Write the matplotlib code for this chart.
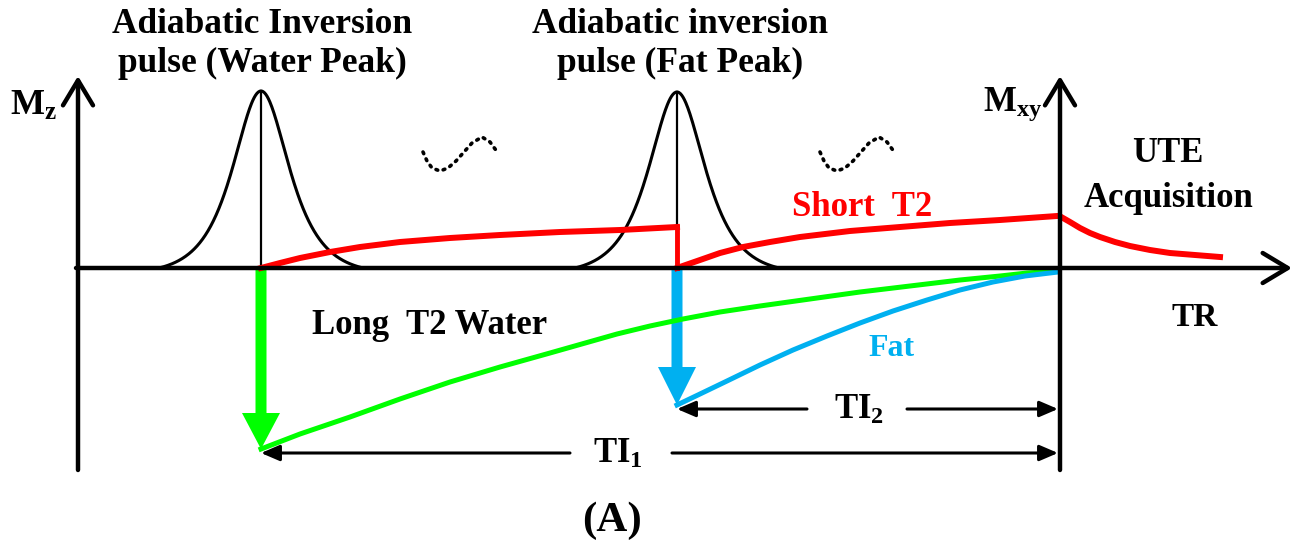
"""Adiabatic inversion recovery UTE sequence diagram."""

import numpy as np
from matplotlib import pyplot as plt

plt.rcParams['font.family'] = ['Liberation Serif', 'DejaVu Serif']
plt.rcParams['font.weight'] = 'bold'
plt.rcParams['mathtext.fontset'] = 'custom'
plt.rcParams['mathtext.rm'] = 'Liberation Serif:bold'
plt.rcParams['mathtext.bf'] = 'Liberation Serif:bold'
plt.rcParams['mathtext.it'] = 'Liberation Serif:bold'

RED = '#ff0000'
GREEN = '#00ff00'
BLUE = '#00b0f0'

# diagram positions (pixels, y downwards)
baseline = 268
t_water = 261       # water inversion pulse
t_fat = 677         # fat inversion pulse
t_acq = 1060        # UTE acquisition (Mxy axis)
pulse_peak = [91, 92]
pulse_halfwidth = 102
pulse_width = 25

# short T2 signal
short1_x = [261, 280, 300, 330, 360, 400, 450, 500, 560, 620, 677]
short1_y = [268, 263, 258, 252, 247, 242, 238, 235, 232, 230, 227]
short2_x = [677, 700, 720, 743, 770, 800, 850, 900, 950, 1000, 1057]
short2_y = [268, 260, 253, 247, 242, 237, 231, 227, 223, 220, 216]
fid_x = [1063, 1070, 1080, 1090, 1100, 1115, 1130, 1150, 1170, 1195, 1220]
fid_y = [218, 222, 228, 233, 237, 242, 246, 250, 253, 255, 257]

# long T2 water recovery
water_x = [261, 300, 350, 400, 450, 500, 550, 617, 650, 683, 720, 760,
           810, 860, 910, 960, 1000, 1027, 1058]
water_y = [449, 434, 417, 399, 382, 367, 353, 334, 326, 319, 312, 306,
           299, 292, 286, 280, 276, 273, 271]

# fat recovery
fat_x = [677, 700, 727, 760, 793, 827, 860, 893, 927, 960, 993, 1025, 1058]
fat_y = [405, 394, 381, 365, 350, 336, 323, 311, 300, 290, 282, 276, 272]

# dotted squiggles
sq_dx = [0, 4, 9, 17, 25, 33, 41, 49, 59, 67, 75]
sq_y = [152, 161, 168, 171, 168, 161, 152, 143, 137, 142, 153]
sq_start = [423, 820]

fig = plt.figure(figsize=(13.05, 5.46), dpi=100)
ax = fig.add_axes([0, 0, 1, 1])
ax.set_xlim(0, 1305)
ax.set_ylim(546, 0)
ax.axis('off')

# axes of the diagram
open_head = dict(arrowstyle='->,head_length=0.5,head_width=0.3', lw=3.2,
                 color='black', shrinkA=0, shrinkB=0, mutation_scale=36)
ax.annotate('', xy=(78, 76), xytext=(78, 470), arrowprops=open_head)
ax.annotate('', xy=(t_acq, 76), xytext=(t_acq, 470), arrowprops=open_head)
ax.annotate('', xy=(1292, baseline), xytext=(76, baseline), arrowprops=open_head)

# inversion pulses
for c, peak in zip([t_water, t_fat], pulse_peak):
    d = np.linspace(-pulse_halfwidth, pulse_halfwidth, 301)
    s = 1 / np.cosh(d / pulse_width)
    s0 = 1 / np.cosh(pulse_halfwidth / pulse_width)
    s = (s - s0) / (1 - s0)
    ax.plot(c + d, baseline - (baseline - peak) * s, color='black', lw=2.2,
            solid_capstyle='round')
    ax.plot([c, c], [baseline, peak], color='black', lw=1.6)

# short T2
ax.plot(short1_x, short1_y, color=RED, lw=4.3, solid_joinstyle='round')
ax.plot([t_fat, t_fat], [short1_y[-1], baseline], color=RED, lw=3.5)
ax.plot(short2_x, short2_y, color=RED, lw=4.3, solid_joinstyle='round')
ax.plot(fid_x, fid_y, color=RED, lw=4.3, solid_joinstyle='round')

# inversion arrows
ax.arrow(t_water, baseline + 2, 0, water_y[0] - baseline - 2, width=11,
         head_width=38, head_length=36, length_includes_head=True,
         color=GREEN, lw=0)
ax.arrow(t_fat, baseline + 2, 0, fat_y[0] - baseline - 2, width=11,
         head_width=38, head_length=38, length_includes_head=True,
         color=BLUE, lw=0)

# recoveries
ax.plot(water_x, water_y, color=GREEN, lw=3.6, solid_joinstyle='round')
ax.plot(fat_x, fat_y, color=BLUE, lw=3.6, solid_joinstyle='round')

# squiggles
for x0 in sq_start:
    ax.plot([x0 + d for d in sq_dx], sq_y, color='black', lw=2.6,
            linestyle=(0, (0.5, 1.6)), dash_capstyle='round')

# TI markers
ti_head = dict(arrowstyle='-|>,head_length=0.7,head_width=0.3', lw=2.2,
               color='black', shrinkA=0, shrinkB=0, mutation_scale=16)
ax.annotate('', xy=(t_fat, 409), xytext=(807, 409), arrowprops=ti_head)
ax.annotate('', xy=(t_acq - 2, 409), xytext=(907, 409), arrowprops=ti_head)
ax.annotate('', xy=(t_water, 453), xytext=(570, 453), arrowprops=ti_head)
ax.annotate('', xy=(t_acq - 2, 453), xytext=(672, 453), arrowprops=ti_head)

# labels
ax.text(262, 44, 'Adiabatic Inversion\npulse (Water Peak)', ha='center',
        va='center', fontsize=25.5, linespacing=1.24)
ax.text(680, 44, 'Adiabatic inversion\npulse (Fat Peak)', ha='center',
        va='center', fontsize=25.5, linespacing=1.24)
ax.text(34, 106, r'$\mathbf{M_z}$', ha='center', va='center', fontsize=26)
ax.text(1013, 104, r'$\mathbf{M_{xy}}$', ha='center', va='center', fontsize=25)
ax.text(1168, 176, 'UTE\nAcquisition', ha='center', va='center',
        fontsize=25, linespacing=1.45)
ax.text(862, 208, 'Short  T2', ha='center', va='center', fontsize=25,
        color=RED)
ax.text(430, 326, 'Long  T2 Water', ha='center', va='center', fontsize=25)
ax.text(892, 349, 'Fat', ha='center', va='center', fontsize=23, color=BLUE)
ax.text(1195, 318, 'TR', ha='center', va='center', fontsize=24)
ax.text(859, 410, r'$\mathbf{TI_2}$', ha='center', va='center', fontsize=25)
ax.text(618, 454, r'$\mathbf{TI_1}$', ha='center', va='center', fontsize=25)
ax.text(612, 521, '(A)', ha='center', va='center', fontsize=31)

fig.savefig('out.png', dpi=100)
